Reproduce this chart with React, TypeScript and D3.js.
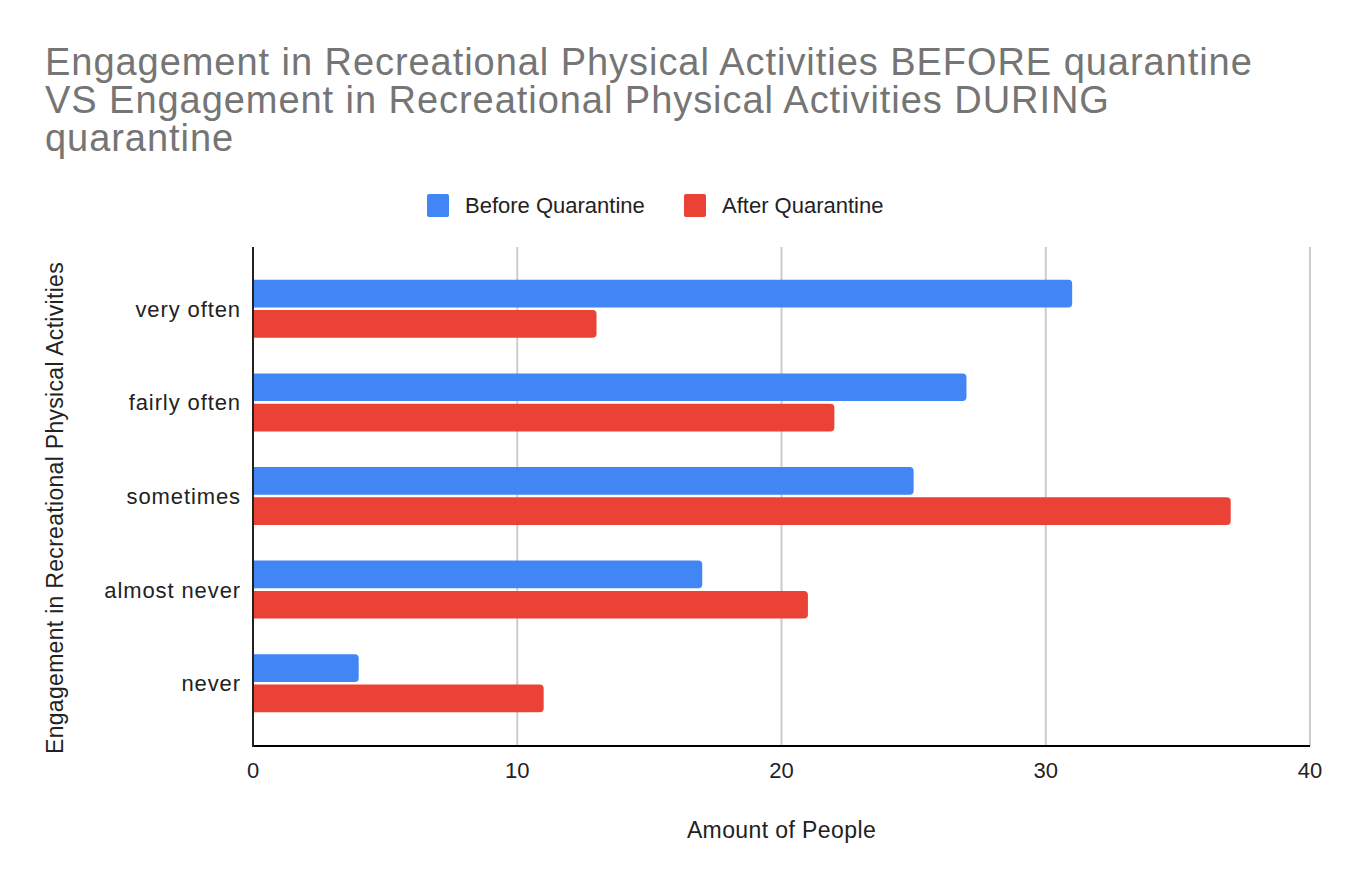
import React from 'react';
import * as d3 from 'd3';

const categories = ['very often', 'fairly often', 'sometimes', 'almost never', 'never'];
const beforeValues = [31, 27, 25, 17, 4];
const afterValues = [13, 22, 37, 21, 11];
const seriesNames = ['Before Quarantine', 'After Quarantine'];
const seriesColors = ['#4285F4', '#EA4335'];
const xTicks = [0, 10, 20, 30, 40];
const titleLines = [
  'Engagement in Recreational Physical Activities BEFORE quarantine',
  'VS Engagement in Recreational Physical Activities DURING',
  'quarantine',
];

const App: React.FC = () => {
  const svgRef = React.useRef<SVGSVGElement>(null);

  React.useEffect(() => {
    if (!svgRef.current) return;
    const svg = d3.select(svgRef.current);
    svg.selectAll('*').remove();

    const plot = { left: 253, right: 1310, top: 247, bottom: 746 };
    const font = '"Liberation Sans", Arial, sans-serif';

    const x = d3.scaleLinear().domain([0, 40]).range([plot.left, plot.right]);
    const y = d3.scaleBand<string>().domain(categories).range([262, 730]);
    const inner = d3.scaleBand<number>().domain([0, 1]).range([0, 58]).paddingInner(0.085);
    const offset = (y.bandwidth() - 58) / 2;

    // Title
    svg.append('g')
      .selectAll('text')
      .data(titleLines)
      .join('text')
      .attr('x', 45)
      .attr('y', (_, i) => 75 + i * 38)
      .style('font-family', font)
      .style('font-size', '38px')
      .style('letter-spacing', '0.95px')
      .style('fill', '#757575')
      .text(d => d);

    // Legend
    const legendX = [427, 684];
    seriesNames.forEach((name, i) => {
      svg.append('rect')
        .attr('x', legendX[i])
        .attr('y', 194)
        .attr('width', 22)
        .attr('height', 23)
        .attr('rx', 2)
        .attr('fill', seriesColors[i]);
      svg.append('text')
        .attr('x', legendX[i] + 38)
        .attr('y', 213)
        .style('font-family', font)
        .style('font-size', '22px')
        .style('fill', '#222')
        .text(name);
    });

    // Gridlines
    svg.append('g')
      .selectAll('line')
      .data(xTicks.slice(1))
      .join('line')
      .attr('x1', d => x(d))
      .attr('x2', d => x(d))
      .attr('y1', plot.top)
      .attr('y2', plot.bottom)
      .attr('stroke', '#cccccc')
      .attr('stroke-width', 2);

    // Bars (rounded right end)
    const barPath = (x0: number, x1: number, yTop: number, h: number) => {
      const r = Math.min(4, (x1 - x0) / 2);
      return `M${x0},${yTop}H${x1 - r}Q${x1},${yTop} ${x1},${yTop + r}V${yTop + h - r}Q${x1},${yTop + h} ${x1 - r},${yTop + h}H${x0}Z`;
    };
    const series = [beforeValues, afterValues];
    series.forEach((vals, si) => {
      svg.append('g')
        .selectAll('path')
        .data(categories)
        .join('path')
        .attr('d', (c, ci) => barPath(x(0), x(vals[ci]), y(c)! + offset + inner(si)!, inner.bandwidth()))
        .attr('fill', seriesColors[si]);
    });

    // Axes lines
    svg.append('line')
      .attr('x1', plot.left).attr('x2', plot.right)
      .attr('y1', plot.bottom).attr('y2', plot.bottom)
      .attr('stroke', '#000').attr('stroke-width', 2);
    svg.append('line')
      .attr('x1', plot.left).attr('x2', plot.left)
      .attr('y1', plot.top).attr('y2', plot.bottom + 1)
      .attr('stroke', '#222').attr('stroke-width', 2);

    // X tick labels
    svg.append('g')
      .selectAll('text')
      .data(xTicks)
      .join('text')
      .attr('x', d => x(d))
      .attr('y', 778)
      .attr('text-anchor', 'middle')
      .style('font-family', font)
      .style('font-size', '22px')
      .style('fill', '#222')
      .text(d => d);

    // Category labels
    svg.append('g')
      .selectAll('text')
      .data(categories)
      .join('text')
      .attr('x', 241)
      .attr('y', c => y(c)! + y.bandwidth() / 2 + 8)
      .attr('text-anchor', 'end')
      .style('font-family', font)
      .style('font-size', '22px')
      .style('letter-spacing', '0.9px')
      .style('fill', '#222')
      .text(c => c);

    // Axis titles
    svg.append('text')
      .attr('x', (plot.left + plot.right) / 2)
      .attr('y', 838)
      .attr('text-anchor', 'middle')
      .style('font-family', font)
      .style('font-size', '23px')
      .style('letter-spacing', '0.4px')
      .style('fill', '#222')
      .text('Amount of People');

    svg.append('text')
      .attr('transform', `translate(63,508) rotate(-90)`)
      .attr('text-anchor', 'middle')
      .style('font-family', font)
      .style('font-size', '23px')
      .style('letter-spacing', '0.3px')
      .style('fill', '#222')
      .text('Engagement in Recreational Physical Activities');
  }, []);

  return (
    <svg ref={svgRef} width={1356} height={888} viewBox="0 0 1356 888"
      style={{ position: 'absolute', left: 0, top: 0, background: '#fff' }} />
  );
};

export default App;
